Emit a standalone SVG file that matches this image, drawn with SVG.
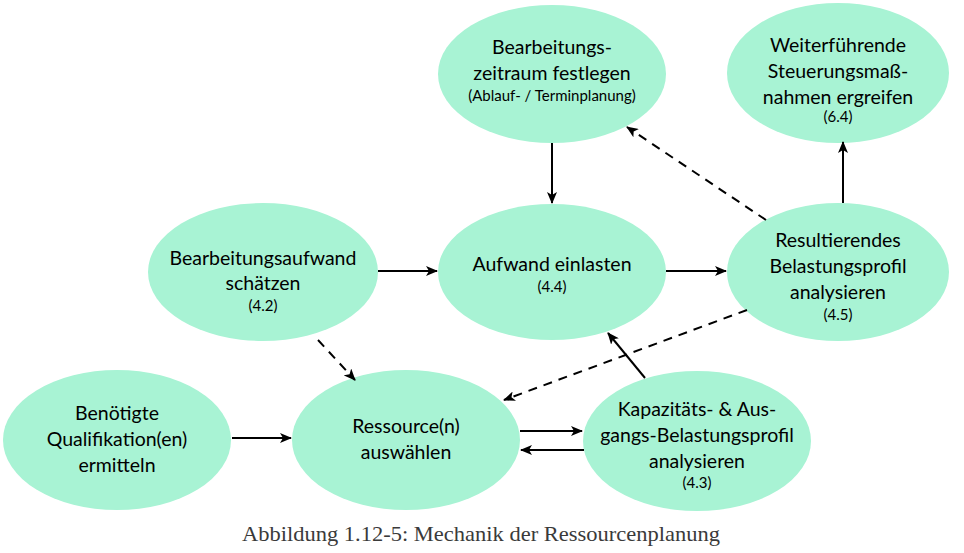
<svg xmlns="http://www.w3.org/2000/svg" width="964" height="553" viewBox="0 0 964 553">
<defs>
<marker id="ah" viewBox="0 0 12 10" refX="11" refY="5" markerWidth="12" markerHeight="10" markerUnits="userSpaceOnUse" orient="auto">
<path d="M0,0 L12,5 L0,10 L3,5 Z" fill="#000"/>
</marker>
<style>
.n{fill:#a8f3d4;}
.t{font-family:Lato,"Open Sans",sans-serif;font-size:19.5px;fill:#000;text-anchor:middle;}
.s{font-family:Lato,"Open Sans",sans-serif;font-size:15px;fill:#000;text-anchor:middle;}
.c{stroke:#000;stroke-width:2;fill:none;marker-end:url(#ah);}
.d{stroke-dasharray:9 7;}
.cap{font-family:"Liberation Serif",serif;font-size:22px;fill:#3a3a3a;text-anchor:middle;}
</style>
</defs>
<rect width="964" height="553" fill="#fff"/>
<g id="n1"><ellipse class="n" cx="552" cy="74" rx="114" ry="69"/>
<text class="t" x="552" y="54">Bearbeitungs-</text>
<text class="t" x="552" y="80">zeitraum festlegen</text>
<text class="s" x="552" y="101">(Ablauf- / Terminplanung)</text></g>
<g id="n2"><ellipse class="n" cx="838" cy="73" rx="111" ry="70"/>
<text class="t" x="838" y="52">Weiterführende</text>
<text class="t" x="838" y="78">Steuerungsmaß-</text>
<text class="t" x="838" y="104">nahmen ergreifen</text>
<text class="s" x="838" y="122">(6.4)</text></g>
<g id="n3"><ellipse class="n" cx="263" cy="272" rx="115" ry="69"/>
<text class="t" x="263" y="265">Bearbeitungsaufwand</text>
<text class="t" x="263" y="290">schätzen</text>
<text class="s" x="263" y="311">(4.2)</text></g>
<g id="n4"><ellipse class="n" cx="552" cy="272" rx="114" ry="68"/>
<text class="t" x="552" y="271">Aufwand einlasten</text>
<text class="s" x="552" y="292">(4.4)</text></g>
<g id="n5"><ellipse class="n" cx="838" cy="272" rx="111" ry="69"/>
<text class="t" x="838" y="247">Resultierendes</text>
<text class="t" x="838" y="273">Belastungsprofil</text>
<text class="t" x="838" y="299">analysieren</text>
<text class="s" x="838" y="320">(4.5)</text></g>
<g id="n6"><ellipse class="n" cx="117" cy="440" rx="114" ry="70"/>
<text class="t" x="117" y="420">Benötigte</text>
<text class="t" x="117" y="446">Qualifikation(en)</text>
<text class="t" x="117" y="472">ermitteln</text></g>
<g id="n7"><ellipse class="n" cx="406" cy="440" rx="114" ry="70"/>
<text class="t" x="406" y="433">Ressource(n)</text>
<text class="t" x="406" y="459">auswählen</text></g>
<g id="n8"><ellipse class="n" cx="697" cy="441" rx="114" ry="70"/>
<text class="t" x="697" y="416">Kapazitäts- &amp; Aus-</text>
<text class="t" x="697" y="442">gangs-Belastungsprofil</text>
<text class="t" x="697" y="468">analysieren</text>
<text class="s" x="697" y="488">(4.3)</text></g>
<g id="connectors">
<line class="c" x1="552" y1="143" x2="552" y2="203"/>
<line class="c d" x1="766" y1="220" x2="627" y2="127"/>
<line class="c" x1="843" y1="203" x2="843" y2="142"/>
<line class="c" x1="378" y1="271" x2="437" y2="271"/>
<line class="c" x1="666" y1="271" x2="726" y2="271"/>
<line class="c d" x1="318" y1="340" x2="355" y2="380"/>
<line class="c d" x1="747" y1="310" x2="504" y2="400"/>
<line class="c" x1="645" y1="378" x2="608" y2="333"/>
<line class="c" x1="232" y1="438" x2="291" y2="438"/>
<line class="c" x1="520" y1="431" x2="582" y2="431"/>
<line class="c" x1="584" y1="450" x2="521" y2="450"/>
</g>
<text class="cap" x="481" y="541" textLength="478" lengthAdjust="spacingAndGlyphs">Abbildung 1.12-5: Mechanik der Ressourcenplanung</text>
</svg>
